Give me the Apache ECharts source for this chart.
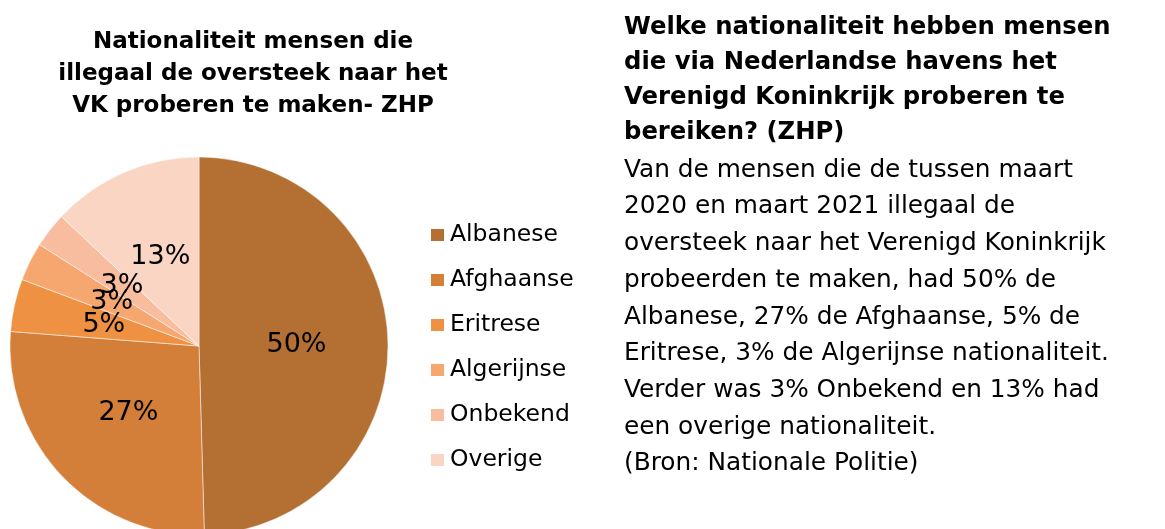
<!DOCTYPE html>
<html>
<head>
<meta charset="utf-8">
<script src="https://cdn.jsdelivr.net/npm/echarts@6/dist/echarts.min.js"></script>
<style>
  html, body { margin: 0; padding: 0; background: #fff; }
  #chart { width: 1165px; height: 529px; }
</style>
</head>
<body>
<div id="chart"></div>
<script>
// categories + shares
const categories = ['Albanese', 'Afghaanse', 'Eritrese', 'Algerijnse', 'Onbekend', 'Overige']
const shares = [49.6, 26.7, 4.5, 3.3, 3.0, 13.0]
const colors = ['#B46F33', '#D37F3A', '#EE9143', '#F6A770', '#F8BD9E', '#FAD5C3']

const chartTitle = 'Nationaliteit mensen die\nillegaal de oversteek naar het\nVK proberen te maken- ZHP'
const heading = 'Welke nationaliteit hebben mensen\ndie via Nederlandse havens het\nVerenigd Koninkrijk proberen te\nbereiken? (ZHP)'
const bodyText = 'Van de mensen die de tussen maart\n2020 en maart 2021 illegaal de\noversteek naar het Verenigd Koninkrijk\nprobeerden te maken, had 50% de\nAlbanese, 27% de Afghaanse, 5% de\nEritrese, 3% de Algerijnse nationaliteit.\nVerder was 3% Onbekend en 13% had\neen overige nationaliteit.\n(Bron: Nationale Politie)'

const font = 'DejaVu Sans, Verdana, sans-serif'
const chart = echarts.init(document.getElementById('chart'))

chart.setOption({
  animation: false,
  color: colors,
  legend: {
    orient: 'vertical',
    left: 424,
    top: 218,
    icon: 'rect',
    itemWidth: 15,
    itemHeight: 14,
    itemGap: 21,
    textStyle: { fontFamily: font, fontSize: 23.5, lineHeight: 23, color: '#000' },
    data: categories
  },
  graphic: [
    {
      type: 'text',
      x: 253,
      y: 26,
      style: {
        text: chartTitle,
        fontFamily: font,
        fontSize: 23,
        fontWeight: 'bold',
        lineHeight: 32,
        align: 'center',
        textAlign: 'center',
        verticalAlign: 'top',
        fill: '#000'
      }
    },
    {
      type: 'text',
      x: 624,
      y: 10,
      style: {
        text: heading,
        fontFamily: font,
        fontSize: 24.3,
        fontWeight: 'bold',
        lineHeight: 35,
        verticalAlign: 'top',
        fill: '#000'
      }
    },
    {
      type: 'text',
      x: 624,
      y: 152,
      style: {
        text: bodyText,
        fontFamily: font,
        fontSize: 24.8,
        lineHeight: 36.7,
        verticalAlign: 'top',
        fill: '#000'
      }
    }
  ],
  series: [
    {
      type: 'pie',
      center: [199, 346],
      radius: 189,
      startAngle: 90,
      clockwise: true,
      itemStyle: { borderColor: '#fff', borderWidth: 0.5 },
      label: {
        show: true,
        position: 'inside',
        color: '#000',
        fontFamily: font,
        fontSize: 27,
        formatter: p => Math.round(p.value) + '%'
      },
      labelLayout: { hideOverlap: false },
      labelLine: { show: false },
      emphasis: { disabled: true },
      data: categories.map((name, i) => ({ name, value: shares[i] }))
    }
  ]
})
</script>
</body>
</html>
